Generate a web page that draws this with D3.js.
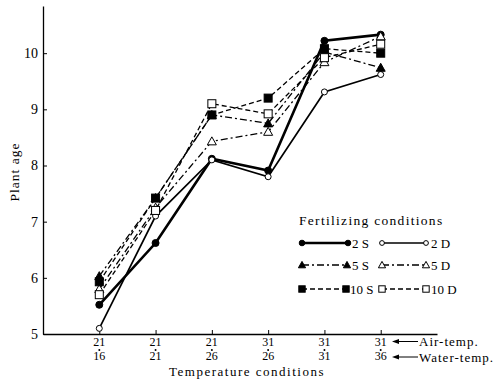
<!DOCTYPE html>
<html>
<head>
<meta charset="utf-8">
<script src="https://cdn.jsdelivr.net/npm/d3@7"></script>
<style>
  body { margin: 0; background: #fff; }
  svg { font-family: "Liberation Serif", "DejaVu Serif", serif; }
</style>
</head>
<body>
<svg id="chart" width="494" height="387"></svg>
<script>
// temperature conditions (air / water)
const airTemp = [21, 21, 21, 31, 31, 31];
const waterTemp = [16, 21, 26, 26, 31, 36];
const yTicks = [5, 6, 7, 8, 9, 10];

// plant age per fertilizing condition
const s2 = [5.52, 6.62, 8.12, 7.91, 10.22, 10.33];
const d2 = [5.1, 7.1, 8.1, 7.8, 9.31, 9.62];
const s5 = [6.03, 7.42, 8.9, 8.75, 10.02, 9.74];
const d5 = [5.8, 7.25, 8.43, 8.6, 9.84, 10.3];
const s10 = [5.93, 7.42, 8.9, 9.2, 10.08, 10.0];
const d10 = [5.7, 7.2, 9.1, 8.92, 9.92, 10.16];

const series = [
    { name: "2 S", values: s2, marker: "circle", filled: true, width: 2.6, dash: null },
    { name: "2 D", values: d2, marker: "circle", filled: false, width: 1.7, dash: null },
    { name: "5 S", values: s5, marker: "triangle", filled: true, width: 1.3, dash: "7,3,2,3" },
    { name: "5 D", values: d5, marker: "triangle", filled: false, width: 1.3, dash: "7,3,2,3" },
    { name: "10 S", values: s10, marker: "square", filled: true, width: 1.3, dash: "5,3" },
    { name: "10 D", values: d10, marker: "square", filled: false, width: 1.3, dash: "5,3" }
];

const svg = d3.select("#chart");

const x = d3.scaleLinear().domain([-1, 6]).range([43, 437]);
const y = d3.scaleLinear().domain([5, 10.84]).range([334, 6]);

// axes
svg.append("g")
    .attr("transform", "translate(43,0)")
    .call(d3.axisLeft(y).tickValues(yTicks).tickFormat(d3.format("d"))
        .tickSizeInner(-4).tickSizeOuter(0).tickPadding(5))
    .call(g => g.select(".domain").attr("stroke-width", 1.3))
    .call(g => g.selectAll("text").attr("font-size", 14).attr("font-family", "Liberation Serif"));

svg.append("g")
    .attr("transform", "translate(0,334)")
    .call(d3.axisBottom(x).tickValues(d3.range(airTemp.length)).tickFormat("").tickSizeInner(-4).tickSizeOuter(0))
    .call(g => g.select(".domain").attr("stroke-width", 1.3));

// x labels
const lab = svg.append("g").attr("font-size", 12).attr("text-anchor", "middle");
airTemp.forEach((a, i) => {
    lab.append("text").attr("x", x(i)).attr("y", 345.5).text(a);
    lab.append("circle").attr("cx", x(i)).attr("cy", 350).attr("r", 1);
    lab.append("text").attr("x", x(i)).attr("y", 360).text(waterTemp[i]);
});

svg.append("text").attr("x", 247).attr("y", 375.5).attr("font-size", 13)
    .attr("text-anchor", "middle").attr("letter-spacing", 1.5).text("Temperature conditions");

// arrows to row captions
function arrowLabel(yy, txt) {
    svg.append("line").attr("x1", 395).attr("x2", 418).attr("y1", yy).attr("y2", yy)
        .attr("stroke", "#000").attr("stroke-width", 1);
    svg.append("path").attr("d", `M392,${yy} l7,-2.5 l0,5 z`).attr("fill", "#000");
    svg.append("text").attr("x", 419).attr("y", yy + 4.5).attr("font-size", 13)
        .attr("letter-spacing", 1).text(txt);
}
arrowLabel(341.5, "Air-temp.");
arrowLabel(357, "Water-temp.");

svg.append("text")
    .attr("transform", "translate(19,172) rotate(-90)")
    .attr("text-anchor", "middle").attr("font-size", 13.5).attr("letter-spacing", 1)
    .text("Plant age");

// markers
function marker(g, type, filled, cx, cy, k = 1) {
    const fill = filled ? "#000" : "#fff";
    if (type === "circle") {
        g.append("circle").attr("cx", cx).attr("cy", cy).attr("r", (filled ? 3.5 : 3) * k)
            .attr("fill", fill).attr("stroke", "#000").attr("stroke-width", 1);
    } else if (type === "triangle") {
        const h = 4.5 * k, b = 3.5 * k;
        g.append("path").attr("d", `M${cx},${cy - h} L${cx + h},${cy + b} L${cx - h},${cy + b} Z`)
            .attr("fill", fill).attr("stroke", "#000").attr("stroke-width", 1);
    } else {
        const r = 4 * k;
        g.append("rect").attr("x", cx - r).attr("y", cy - r).attr("width", 2 * r).attr("height", 2 * r)
            .attr("fill", fill).attr("stroke", "#000").attr("stroke-width", 1);
    }
}

const line = d3.line().x((d, i) => x(i)).y(d => y(d));
const plot = svg.append("g");
series.forEach(s => {
    plot.append("path").attr("d", line(s.values)).attr("fill", "none")
        .attr("stroke", "#000").attr("stroke-width", s.width)
        .attr("stroke-dasharray", s.dash);
});
series.forEach(s => {
    s.values.forEach((v, i) => marker(plot, s.marker, s.filled, x(i), y(v)));
});

// legend
const leg = svg.append("g");
leg.append("text").attr("x", 299).attr("y", 225).attr("font-size", 13.5)
    .attr("letter-spacing", 1.3).text("Fertilizing conditions");
const legRows = [243, 265, 289];
const legPos = [[302, 348, 351], [382, 426, 430], [302, 347, 351], [382, 426, 430], [302, 346, 349], [382, 426, 430]];
series.forEach((s, k) => {
    const ry = legRows[Math.floor(k / 2)];
    const [a, b, t] = legPos[k];
    leg.append("line").attr("x1", a).attr("x2", b).attr("y1", ry).attr("y2", ry)
        .attr("stroke", "#000").attr("stroke-width", s.width).attr("stroke-dasharray", s.dash);
    marker(leg, s.marker, s.filled, a, ry, 0.8);
    marker(leg, s.marker, s.filled, b, ry, 0.8);
    leg.append("text").attr("x", t + 1).attr("y", ry + 4.5).attr("font-size", 13).text(s.name);
});
</script>
</body>
</html>
